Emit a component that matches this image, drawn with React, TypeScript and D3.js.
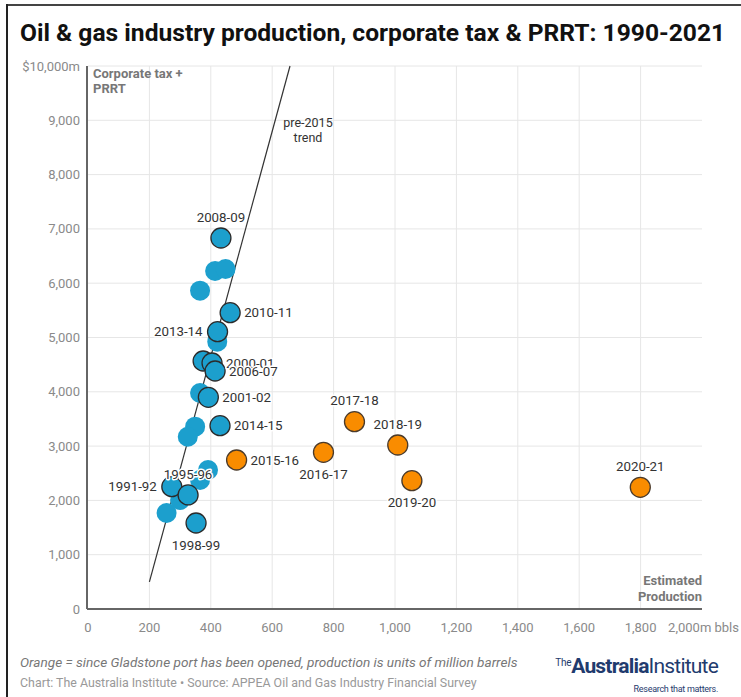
import React from "react";
import * as d3 from "d3";

const blueLabels = ["2008-09", "", "", "", "2010-11", "2013-14", "", "", "2000-01", "2006-07", "", "2001-02", "2014-15", "", "", "", "", "", "1991-92", "1995-96", "", "1998-99"];
const blueProduction = [433, 414, 448, 365, 463, 422, 421, 375, 404, 414, 365, 392, 430, 349, 325, 391, 365, 300, 273, 326, 256, 352];
const blueTax = [6832, 6225, 6262, 5862, 5457, 5107, 4923, 4567, 4530, 4383, 3978, 3898, 3376, 3358, 3173, 2560, 2376, 2007, 2252, 2100, 1768, 1584];
const blueOutlined = [true, false, false, false, true, true, false, true, true, true, false, true, true, false, false, false, false, false, true, true, false, true];

const orangeLabels = ["2015-16", "2016-17", "2017-18", "2018-19", "2019-20", "2020-21"];
const orangeProduction = [484, 767, 868, 1009, 1055, 1799];
const orangeTax = [2744, 2886, 3450, 3020, 2363, 2241];

const trendProduction = [200, 658];
const trendTax = [500, 10000];

const xTickValues = [0, 200, 400, 600, 800, 1000, 1200, 1400, 1600, 1800, 2000];
const xTickLabels = ["0", "200", "400", "600", "800", "1,000", "1,200", "1,400", "1,600", "1,800", "2,000m bbls"];
const yTickValues = [0, 1000, 2000, 3000, 4000, 5000, 6000, 7000, 8000, 9000, 10000];
const yTickLabels = ["0", "1,000", "2,000", "3,000", "4,000", "5,000", "6,000", "7,000", "8,000", "9,000", "$10,000m"];

const labelPlacement: Record<string, string> = {
  "2008-09": "above", "2010-11": "right", "2013-14": "left", "2000-01": "right",
  "2006-07": "right", "2001-02": "right", "2014-15": "right", "1995-96": "above",
  "1991-92": "left", "1998-99": "below", "2015-16": "right", "2016-17": "below",
  "2017-18": "above", "2018-19": "above", "2019-20": "below", "2020-21": "above",
};

const W = 741, H = 697;
const FONT = "Roboto, 'Noto Sans', sans-serif";
const BLUE = "#1c9fcd";
const ORANGE = "#f98c00";

export default function App() {
  const x = d3.scaleLinear().domain([0, 2000]).range([88, 702]);
  const y = d3.scaleLinear().domain([0, 10000]).range([609, 66]);
  const R = 10;

  const blue = blueProduction.map((p, i) => ({ p, t: blueTax[i], label: blueLabels[i], outlined: blueOutlined[i] }));
  const orange = orangeProduction.map((p, i) => ({ p, t: orangeTax[i], label: orangeLabels[i] }));

  const trendLine = d3.line<number>().x((d, i) => x(trendProduction[i])).y((d, i) => y(trendTax[i]));

  const labelPos = (px: number, py: number, label: string) => {
    const pl = labelPlacement[label];
    if (pl === "above") return { x: px, y: py - 21, anchor: "middle" };
    if (pl === "below") return { x: px, y: py + 22, anchor: "middle" };
    if (pl === "left") return { x: px - 15, y: py, anchor: "end" };
    return { x: px + 14, y: py, anchor: "start" };
  };

  const labels = [
    ...blue.filter(d => d.label).map(d => ({ ...d })),
    ...orange.map(d => ({ ...d })),
  ];

  return (
    <svg width={W} height={H} style={{ position: "absolute", left: 0, top: 0, background: "#fff" }} fontFamily={FONT}>
      <rect x={0} y={0} width={W} height={H} fill="#fff" />
      <line x1={7} x2={W} y1={5} y2={5} stroke="#444" strokeWidth={2} />
      <line x1={7} x2={7} y1={4} y2={H} stroke="#222" strokeWidth={2} />

      <text x={20} y={41} fontSize={24.6} fontWeight={700} fill="#111">Oil &amp; gas industry production, corporate tax &amp; PRRT: 1990-2021</text>

      {/* grid */}
      {yTickValues.filter(v => v > 0).map(v => (
        <line key={"gy" + v} x1={x(0)} x2={x(2000)} y1={y(v)} y2={y(v)} stroke="#e6e6e6" strokeWidth={1} />
      ))}
      {xTickValues.filter(v => v > 0 && v < 2000).map(v => (
        <line key={"gx" + v} x1={x(v)} x2={x(v)} y1={y(0)} y2={y(10000)} stroke="#e6e6e6" strokeWidth={1} />
      ))}
      {/* axes */}
      <line x1={x(0) - 1} x2={x(0) - 1} y1={y(10000)} y2={y(0)} stroke="#666" strokeWidth={2} />
      <line x1={x(0) - 1} x2={x(2000)} y1={y(0)} y2={y(0)} stroke="#666" strokeWidth={2} />

      {yTickValues.map((v, i) => (
        <text key={"ty" + v} x={80} y={y(v)} dy="0.35em" textAnchor="end" fontSize={13} fill="#8a8a8a">{yTickLabels[i]}</text>
      ))}
      {xTickValues.map((v, i) => (
        <text key={"tx" + v} x={v === 2000 ? 739 : x(v)} y={627} dy="0.35em" textAnchor={v === 2000 ? "end" : "middle"} fontSize={13} fill="#8a8a8a">{xTickLabels[i]}</text>
      ))}

      <text x={93} y={78} fontSize={13} fontWeight={700} fill="#777">
        <tspan x={93}>Corporate tax +</tspan>
        <tspan x={93} dy={15}>PRRT</tspan>
      </text>
      <text x={702} y={585} fontSize={13} fontWeight={700} fill="#777" textAnchor="end">
        <tspan x={702}>Estimated</tspan>
        <tspan x={702} dy={16}>Production</tspan>
      </text>

      <path d={trendLine([0, 1]) || ""} stroke="#333" strokeWidth={1.2} fill="none" />
      <text x={308} y={127} fontSize={12.5} fill="#333" textAnchor="middle">
        <tspan x={308}>pre-2015</tspan>
        <tspan x={308} dy={15}>trend</tspan>
      </text>

      {blue.filter(d => !d.outlined).map((d, i) => (
        <circle key={"bu" + i} cx={x(d.p)} cy={y(d.t)} r={R} fill={BLUE} />
      ))}
      {blue.filter(d => d.outlined).map((d, i) => (
        <circle key={"bo" + i} cx={x(d.p)} cy={y(d.t)} r={R} fill={BLUE} stroke="#2b2b2b" strokeWidth={1.3} />
      ))}
      {orange.map((d, i) => (
        <circle key={"o" + i} cx={x(d.p)} cy={y(d.t)} r={R} fill={ORANGE} stroke="#4a3a2a" strokeWidth={1.3} />
      ))}

      {labels.map((d, i) => {
        const lp = labelPos(x(d.p), y(d.t), d.label);
        return (
          <text key={"l" + i} x={lp.x} y={lp.y} dy="0.35em" textAnchor={lp.anchor} fontSize={13.3} fill="#333"
            stroke="#fff" strokeWidth={3} strokeLinejoin="round" paintOrder="stroke">{d.label}</text>
        );
      })}

      <text x={20} y={667} fontSize={13.6} fontStyle="italic" fill="#777">Orange = since Gladstone port has been opened, production is units of million barrels</text>
      <text x={20} y={687} fontSize={12.4} fill="#999">Chart: The Australia Institute • Source: APPEA Oil and Gas Industry Financial Survey</text>

      <text x={718} y={673} textAnchor="end" fill="#1f3b6e" fontSize={21} letterSpacing={-0.8}>
        <tspan fontSize={10} dy={-7} letterSpacing={-0.3}>The</tspan>
        <tspan fontWeight={700} dy={7}>Australia</tspan>
        <tspan fontWeight={400}>Institute</tspan>
      </text>
      <text x={718} y={692} textAnchor="end" fontSize={9} fill="#1f3b6e" letterSpacing={-0.3}>Research that matters.</text>
    </svg>
  );
}
